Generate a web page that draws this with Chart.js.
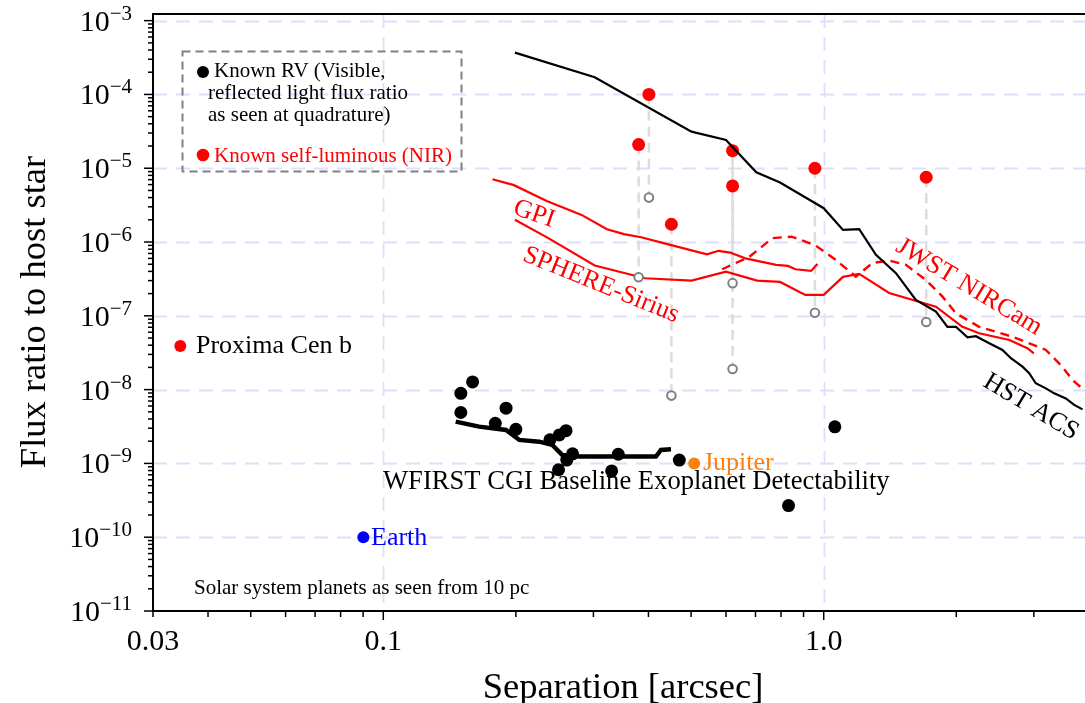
<!DOCTYPE html>
<html>
<head>
<meta charset="utf-8">
<script src="https://cdn.jsdelivr.net/npm/chart.js@4"></script>
<style>
  body { margin: 0; background: #fff; }
  canvas { display: block; }
</style>
</head>
<body>
<canvas id="fluxChart" width="1085" height="703"></canvas>
<script>
// axis limits (log scales)
const xMin = 0.03, xMax = 3.92;
const yMin = 1e-11, yMax = 1.23e-3;
const yDecades = [-11, -10, -9, -8, -7, -6, -5, -4, -3];
const xLabelValues = [0.03, 0.1, 1.0];
const xLabelTexts = ['0.03', '0.1', '1.0'];

// HST ACS contrast curve
const hstSep = [0.199, 0.302, 0.501, 0.600, 0.703, 0.796, 1.0, 1.106, 1.204, 1.314, 1.459, 1.619, 1.798, 1.910, 1.996, 2.121, 2.216, 2.376, 2.546, 2.661, 2.827, 2.928, 3.03, 3.194, 3.337, 3.546, 3.705, 3.87];
const hstFlux = [3.68e-4, 1.71e-4, 3.13e-5, 2.42e-5, 8.8e-6, 6.4e-6, 2.87e-6, 1.46e-6, 1.49e-6, 6.7e-7, 3.78e-7, 1.64e-7, 1.14e-7, 7.1e-8, 7.1e-8, 5.1e-8, 5.3e-8, 4.26e-8, 3.45e-8, 2.66e-8, 2.05e-8, 1.67e-8, 1.22e-8, 1.04e-8, 8.9e-9, 7.6e-9, 6.2e-9, 5.4e-9];

// GPI contrast curve
const gpiSep = [0.177, 0.198, 0.235, 0.282, 0.322, 0.352, 0.385, 0.435, 0.543, 0.577, 0.613, 0.664, 0.780, 0.829, 0.863, 0.936, 0.968];
const gpiFlux = [7.1e-6, 5.9e-6, 3.6e-6, 2.33e-6, 1.49e-6, 1.28e-6, 1.16e-6, 9.6e-7, 6.8e-7, 7.6e-7, 7.2e-7, 6.0e-7, 4.9e-7, 4.74e-7, 4.28e-7, 4.06e-7, 5.05e-7];

// SPHERE-Sirius contrast curve
const sphereSep = [0.199, 0.237, 0.302, 0.393, 0.501, 0.600, 0.706, 0.796, 0.908, 1.0, 1.106, 1.204, 1.408, 1.798, 2.065, 2.254, 2.64, 2.90, 3.0];
const sphereFlux = [2.0e-6, 1.13e-6, 4.8e-7, 3.23e-7, 3.0e-7, 3.97e-7, 3.0e-7, 2.88e-7, 1.92e-7, 1.92e-7, 3.37e-7, 3.7e-7, 2.04e-7, 1.33e-7, 7.1e-8, 5.8e-8, 4.7e-8, 3.64e-8, 3.1e-8];

// JWST NIRCam contrast curve
const jwstSep = [0.588, 0.678, 0.765, 0.845, 0.955, 1.066, 1.183, 1.291, 1.408, 1.537, 1.706, 1.861, 1.996, 2.254, 2.683, 3.194, 3.48, 3.67, 3.90];
const jwstFlux = [4.28e-7, 6.3e-7, 1.13e-6, 1.18e-6, 9.1e-7, 5.7e-7, 3.4e-7, 5.2e-7, 5.6e-7, 4.9e-7, 3.06e-7, 1.82e-7, 1.08e-7, 7.1e-8, 5.2e-8, 3.45e-8, 2.05e-8, 1.35e-8, 9.9e-9];

// WFIRST CGI baseline detectability
const cgiSep = [0.146, 0.165, 0.190, 0.2036, 0.226, 0.242, 0.255, 0.279, 0.416, 0.427, 0.450];
const cgiFlux = [3.68e-9, 3.15e-9, 2.84e-9, 2.08e-9, 1.97e-9, 1.78e-9, 1.30e-9, 1.24e-9, 1.24e-9, 1.52e-9, 1.55e-9];

// known RV planets (reflected light at quadrature)
const rvSep = [0.150, 0.1595, 0.150, 0.190, 0.1796, 0.200, 0.260, 0.251, 0.239, 0.269, 0.261, 0.250, 0.3416, 0.330, 0.470, 1.06, 0.832];
const rvFlux = [8.9e-9, 1.27e-8, 4.9e-9, 5.6e-9, 3.5e-9, 2.9e-9, 2.78e-9, 2.43e-9, 2.09e-9, 1.35e-9, 1.11e-9, 8.2e-10, 1.33e-9, 7.9e-10, 1.11e-9, 3.13e-9, 2.68e-10];

// known self-luminous planets (NIR) and their visible-light counterparts
const nirSep = [0.380, 0.401, 0.451, 0.621, 0.621, 0.955, 1.709];
const nirFlux = [2.09e-5, 1.0e-4, 1.74e-6, 1.73e-5, 5.75e-6, 1.0e-5, 7.55e-6];
const visFlux = [3.33e-7, 4.0e-6, 8.3e-9, 2.77e-7, 1.9e-8, 1.1e-7, 8.26e-8];
const linkSolid = [false, false, false, true, false, false, false];

// solar system + Proxima
const proximaSep = [0.0346], proximaFlux = [3.9e-8];
const earthSep = [0.0901], earthFlux = [1e-10];
const jupiterSep = [0.508], jupiterFlux = [1e-9];

const SERIF = '"Liberation Serif", "DejaVu Serif", serif';

function pts(xs, ys) {
    return xs.map((x, i) => ({ x: x, y: ys[i] }));
}

function curve(label, xs, ys, color, width, dash, order) {
    return {
        label: label,
        data: pts(xs, ys),
        showLine: true,
        borderColor: color,
        borderWidth: width,
        borderDash: dash,
        pointRadius: 0,
        fill: false,
        order: order
    };
}

function dots(label, xs, ys, color, r, order) {
    return {
        label: label,
        data: pts(xs, ys),
        showLine: false,
        pointRadius: r,
        pointBackgroundColor: color,
        pointBorderColor: color,
        pointBorderWidth: 0,
        order: order
    };
}

var datasets = [];
// connectors between NIR and visible flux of the same planet
nirSep.forEach((s, i) => {
    datasets.push(curve('link' + i, [s, s], [nirFlux[i], visFlux[i]], '#dcdcdc', 2.5, linkSolid[i] ? [] : [10, 6], 20));
});
datasets.push(curve('GPI', gpiSep, gpiFlux, '#ff0000', 2.2, [], 12));
datasets.push(curve('SPHERE-Sirius', sphereSep, sphereFlux, '#ff0000', 2.2, [], 12));
datasets.push(curve('JWST NIRCam', jwstSep, jwstFlux, '#ff0000', 2.4, [9, 6], 12));
datasets.push(curve('HST ACS', hstSep, hstFlux, '#000000', 2.2, [], 5));
datasets.push(curve('WFIRST CGI', cgiSep, cgiFlux, '#000000', 4.5, [], 8));
datasets.push({
    label: 'visible',
    data: pts(nirSep, visFlux),
    showLine: false,
    pointRadius: 4.3,
    pointBackgroundColor: '#ffffff',
    pointBorderColor: '#808080',
    pointBorderWidth: 2,
    order: 9
});
datasets.push(dots('Known self-luminous (NIR)', nirSep, nirFlux, '#ff0000', 6.5, 7));
datasets.push(dots('Known RV', rvSep, rvFlux, '#000000', 6.5, 6));
datasets.push(dots('Proxima Cen b', proximaSep, proximaFlux, '#ff0000', 6, 4));
datasets.push(dots('Earth', earthSep, earthFlux, '#0000ff', 6, 4));
datasets.push(dots('Jupiter', jupiterSep, jupiterFlux, '#ff7f0e', 6, 4));

function rotText(ctx, text, x, y, deg, color, size) {
    ctx.save();
    ctx.translate(x, y);
    ctx.rotate(deg * Math.PI / 180);
    ctx.fillStyle = color;
    ctx.font = size + 'px ' + SERIF;
    ctx.textAlign = 'center';
    ctx.textBaseline = 'middle';
    ctx.fillText(text, 0, 0);
    ctx.restore();
}

const figure = {
    id: 'figure',
    beforeDatasetsDraw(chart) {
        const ctx = chart.ctx, a = chart.chartArea;
        const xs = chart.scales.x, ys = chart.scales.y;
        ctx.save();
        ctx.strokeStyle = '#dedeff';
        ctx.lineWidth = 1.8;
        ctx.setLineDash([14, 9]);
        yDecades.forEach(d => {
            if (d <= -11) return;
            const py = Math.round(ys.getPixelForValue(Math.pow(10, d))) + 0.5;
            ctx.beginPath(); ctx.moveTo(a.left, py); ctx.lineTo(a.right, py); ctx.stroke();
        });
        [0.1, 1.0].forEach(v => {
            const px = Math.round(xs.getPixelForValue(v)) + 0.5;
            ctx.beginPath(); ctx.moveTo(px, a.top); ctx.lineTo(px, a.bottom); ctx.stroke();
        });
        ctx.restore();
    },
    afterDatasetsDraw(chart) {
        const ctx = chart.ctx, a = chart.chartArea;
        const xs = chart.scales.x, ys = chart.scales.y;
        ctx.save();
        // spines
        ctx.strokeStyle = '#000';
        ctx.lineWidth = 2;
        ctx.beginPath();
        ctx.moveTo(a.right, a.top); ctx.lineTo(a.left, a.top);
        ctx.lineTo(a.left, a.bottom); ctx.lineTo(a.right, a.bottom);
        ctx.stroke();

        // y ticks
        ctx.lineWidth = 1.5;
        yDecades.forEach(d => {
            for (let m = 1; m <= 9; m++) {
                const v = m * Math.pow(10, d);
                if (v > yMax) break;
                const py = ys.getPixelForValue(v);
                const len = m === 1 ? 9 : 5;
                ctx.beginPath(); ctx.moveTo(a.left, py); ctx.lineTo(a.left - len, py); ctx.stroke();
            }
        });
        // x ticks
        [-2, -1, 0].forEach(d => {
            for (let m = 1; m <= 9; m++) {
                const v = m * Math.pow(10, d);
                if (v < xMin - 1e-9 || v > xMax) continue;
                const px = xs.getPixelForValue(v);
                const len = m === 1 ? 9 : 6;
                ctx.beginPath(); ctx.moveTo(px, a.bottom); ctx.lineTo(px, a.bottom + len); ctx.stroke();
            }
        });

        // y tick labels 10^n
        ctx.fillStyle = '#000';
        ctx.textBaseline = 'alphabetic';
        yDecades.forEach(d => {
            const py = ys.getPixelForValue(Math.pow(10, d));
            const exp = '\u2212' + Math.abs(d);
            ctx.font = '21px ' + SERIF;
            const ew = ctx.measureText(exp).width;
            const right = 132;
            ctx.textAlign = 'left';
            ctx.fillText(exp, right - ew, py - 1);
            ctx.font = '30px ' + SERIF;
            ctx.textAlign = 'right';
            ctx.fillText('10', right - ew, py + 10);
        });
        // x tick labels
        ctx.font = '30px ' + SERIF;
        ctx.textAlign = 'center';
        xLabelValues.forEach((v, i) => {
            ctx.fillText(xLabelTexts[i], xs.getPixelForValue(v), 650);
        });

        // axis titles
        ctx.font = '36.5px ' + SERIF;
        ctx.fillText('Separation [arcsec]', 623, 698);
        ctx.save();
        ctx.translate(45, 312);
        ctx.rotate(-Math.PI / 2);
        ctx.textAlign = 'center';
        ctx.fillText('Flux ratio to host star', 0, 0);
        ctx.restore();

        // annotations
        ctx.textAlign = 'left';
        ctx.font = '26px ' + SERIF;
        ctx.fillStyle = '#000';
        ctx.fillText('Proxima Cen b', 196, 353);
        ctx.fillStyle = '#0000ff';
        ctx.fillText('Earth', 371, 545);
        ctx.fillStyle = '#ff7f0e';
        ctx.fillText('Jupiter', 703, 470);
        ctx.fillStyle = '#000';
        ctx.font = '26.6px ' + SERIF;
        ctx.fillText('WFIRST CGI Baseline Exoplanet Detectability', 383, 489);
        ctx.font = '21px ' + SERIF;
        ctx.fillText('Solar system planets as seen from 10 pc', 194, 594);

        rotText(ctx, 'GPI', 534, 214, 19, '#ff0000', 26);
        rotText(ctx, 'SPHERE-Sirius', 601, 285, 22, '#ff0000', 26);
        rotText(ctx, 'JWST NIRCam', 969, 287, 31, '#ff0000', 26);
        rotText(ctx, 'HST ACS', 1031, 407, 31, '#000000', 26);

        // legend box
        ctx.strokeStyle = '#808080';
        ctx.lineWidth = 2;
        ctx.setLineDash([8, 5]);
        ctx.strokeRect(182.5, 51.5, 279, 120);
        ctx.setLineDash([]);
        ctx.fillStyle = '#000';
        ctx.beginPath(); ctx.arc(203, 72, 6, 0, 2 * Math.PI); ctx.fill();
        ctx.fillStyle = '#ff0000';
        ctx.beginPath(); ctx.arc(203, 155, 6.3, 0, 2 * Math.PI); ctx.fill();
        ctx.font = '21px ' + SERIF;
        ctx.fillStyle = '#000';
        ctx.fillText('Known RV (Visible,', 214, 77);
        ctx.fillText('reflected light flux ratio', 208, 99);
        ctx.fillText('as seen at quadrature)', 208, 121);
        ctx.fillStyle = '#ff0000';
        ctx.fillText('Known self-luminous (NIR)', 214, 162);
        ctx.restore();
    }
};

new Chart(document.getElementById('fluxChart'), {
    type: 'scatter',
    data: { datasets: datasets },
    options: {
        responsive: false,
        animation: false,
        layout: { autoPadding: false, padding: { left: 153, right: 0, top: 14, bottom: 92 } },
        plugins: {
            legend: { display: false },
            tooltip: { enabled: false }
        },
        scales: {
            x: { type: 'logarithmic', min: xMin, max: xMax, display: false },
            y: { type: 'logarithmic', min: yMin, max: yMax, display: false }
        }
    },
    plugins: [figure]
});
</script>
</body>
</html>
